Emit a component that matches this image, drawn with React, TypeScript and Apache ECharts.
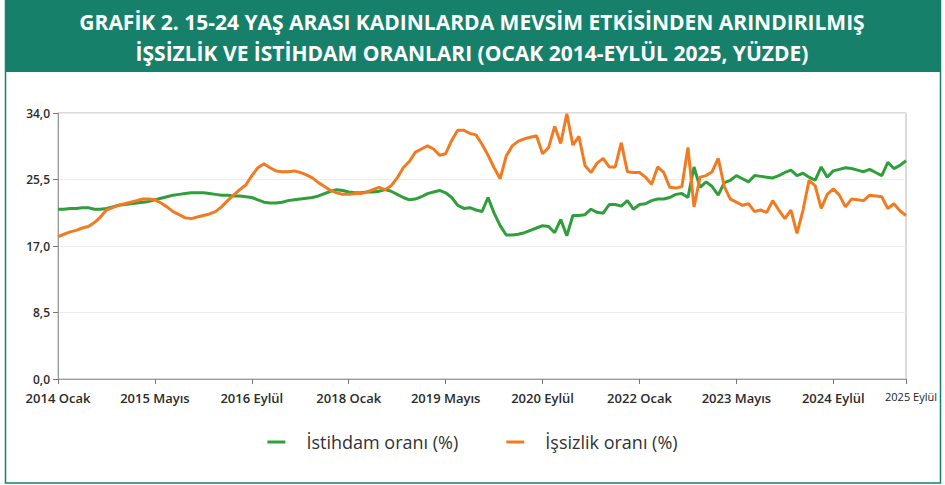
import React, { useEffect, useRef } from "react";
import * as echarts from "echarts";

const titleLines = [
  "GRAFİK 2. 15-24 YAŞ ARASI KADINLARDA MEVSİM ETKİSİNDEN ARINDIRILMIŞ",
  "İŞSİZLİK VE İSTİHDAM ORANLARI (OCAK 2014-EYLÜL 2025, YÜZDE)",
];

const years = [2014, 2015, 2016, 2017, 2018, 2019, 2020, 2021, 2022, 2023, 2024, 2025];
const monthNames = ["Ocak", "Şubat", "Mart", "Nisan", "Mayıs", "Haziran", "Temmuz", "Ağustos", "Eylül", "Ekim", "Kasım", "Aralık"];
const lastMonthIndex2025 = 8; // Eylül

const seriesNames = ["İstihdam oranı (%)", "İşsizlik oranı (%)"];

const employment = [
  21.7, 21.7, 21.8, 21.8, 21.9, 21.9, 21.7, 21.7, 21.8, 22.0, 22.2, 22.3,
  22.4, 22.5, 22.6, 22.7, 22.9, 23.1, 23.3, 23.5, 23.6, 23.7, 23.8, 23.8,
  23.8, 23.7, 23.6, 23.5, 23.5, 23.4, 23.4, 23.3, 23.2, 22.9, 22.6, 22.5,
  22.5, 22.6, 22.8, 22.9, 23.0, 23.1, 23.2, 23.4, 23.7, 24.0, 24.2, 24.1,
  23.9, 23.8, 23.8, 23.9, 23.9, 24.0, 24.2, 24.0, 23.6, 23.2, 22.9, 23.0,
  23.3, 23.7, 23.9, 24.1, 23.8, 23.2, 22.2, 21.8, 21.9, 21.6, 21.4, 23.2,
  21.2, 19.6, 18.4, 18.4, 18.5, 18.7, 19.0, 19.3, 19.6, 19.5, 18.7, 20.4,
  18.3, 20.9, 20.9, 21.0, 21.7, 21.3, 21.2, 22.3, 22.3, 22.1, 22.8, 21.7,
  22.3, 22.4, 22.8, 23.0, 23.0, 23.2, 23.6, 23.7, 23.2, 27.1, 24.5, 25.2,
  24.6, 23.5, 25.1, 25.4, 26.0, 25.6, 25.2, 26.0, 25.9, 25.8, 25.7, 26.0,
  26.4, 26.7, 26.0, 26.3, 25.8, 25.4, 27.1, 25.8, 26.6, 26.8, 27.0, 26.9,
  26.7, 26.5, 26.8, 26.4, 26.0, 27.7, 26.9, 27.3, 27.9,
];

const unemployment = [
  18.2, 18.5, 18.8, 19.0, 19.3, 19.5, 20.0, 20.7, 21.6, 21.9, 22.2, 22.4,
  22.6, 22.8, 23.0, 23.0, 22.9, 22.5, 22.0, 21.4, 21.0, 20.6, 20.5, 20.7,
  20.9, 21.1, 21.4, 22.0, 22.8, 23.5, 24.2, 24.8, 26.0, 27.0, 27.5, 27.0,
  26.6, 26.5, 26.5, 26.6, 26.4, 26.1, 25.7, 25.1, 24.6, 24.1, 23.8, 23.6,
  23.6, 23.7, 23.7, 23.9, 24.2, 24.5, 24.2, 24.7, 25.7, 27.0, 27.8, 29.0,
  29.4, 29.8, 29.4, 28.6, 28.8, 30.5, 31.8, 31.8, 31.4, 31.2, 30.0, 28.6,
  27.0, 25.6, 28.5, 29.8, 30.4, 30.7, 30.9, 31.1, 28.8, 29.6, 32.3, 30.1,
  33.9, 29.9, 31.0, 27.3, 26.4, 27.6, 28.2, 27.1, 27.1, 30.2, 26.5, 26.4,
  26.4, 25.8, 24.9, 27.1, 26.4, 24.5, 24.4, 24.6, 29.6, 22.0, 25.8, 26.0,
  26.5, 28.2, 24.6, 23.0, 22.6, 22.2, 22.4, 21.4, 21.6, 21.3, 22.8, 21.6,
  20.5, 21.6, 18.6, 21.6, 25.4, 24.7, 21.8, 23.6, 24.3, 23.5, 22.0, 23.0,
  22.9, 22.8, 23.5, 23.4, 23.3, 21.8, 22.4, 21.5, 20.9,
];

const yTicks = { min: 0, max: 34, interval: 8.5 };
const labelEvery = 16;

const categories: string[] = [];
years.forEach((y) => {
  monthNames.forEach((m, mi) => {
    if (y === 2025 && mi > lastMonthIndex2025) return;
    categories.push(`${y} ${m}`);
  });
});
const lastIdx = categories.length - 1;

const GREEN_BAND = "#17806b";
const GREEN_LINE = "#2f9f3b";
const ORANGE_LINE = "#f27b21";
const FONT = "'Open Sans', 'Noto Sans', sans-serif";

export default function App() {
  const ref = useRef<HTMLDivElement>(null);
  useEffect(() => {
    if (!ref.current) return;
    const chart = echarts.init(ref.current, undefined, { renderer: "svg" });
    const showLabel = (i: number) => i % labelEvery === 0 || i === lastIdx;
    chart.setOption({
      animation: false,
      backgroundColor: "#ffffff",
      graphic: [
        { type: "rect", shape: { x: 5.5, y: 0, width: 935, height: 483 }, style: { fill: "none", stroke: GREEN_BAND, lineWidth: 1.5 }, silent: true },
        { type: "rect", shape: { x: 5, y: 0, width: 936, height: 72 }, style: { fill: GREEN_BAND }, silent: true },
        {
          type: "text",
          x: 472,
          y: 22,
          silent: true,
          style: { text: titleLines[0], fill: "#ffffff", fontSize: 21, fontWeight: "bold", fontFamily: FONT, align: "center", verticalAlign: "middle" },
        },
        {
          type: "text",
          x: 472,
          y: 53,
          silent: true,
          style: { text: titleLines[1], fill: "#ffffff", fontSize: 21, fontWeight: "bold", fontFamily: FONT, align: "center", verticalAlign: "middle" },
        },
      ],
      legend: {
        data: seriesNames,
        left: "center",
        top: 428,
        icon: "rect",
        itemWidth: 18,
        itemHeight: 3,
        itemGap: 48,
        textStyle: {
          fontSize: 18,
          color: "#333333",
          fontFamily: FONT,
          padding: [0, 0, 0, 16],
        },
      },
      grid: {
        left: 58,
        right: 39,
        top: 113,
        bottom: 106,
        show: true,
        borderColor: "#b5b5b5",
        borderWidth: 1,
        outerBoundsMode: "none",
        containLabel: false,
      },
      xAxis: {
        type: "category",
        data: categories,
        boundaryGap: false,
        axisLine: { lineStyle: { color: "#9a9a9a" } },
        axisTick: { show: true, interval: (i: number) => showLabel(i), length: 5, lineStyle: { color: "#777" } },
        axisLabel: {
          interval: (i: number) => showLabel(i),
          color: "#2b2b2b",
          fontSize: 13,
          fontWeight: 600,
          margin: 12,
          fontFamily: FONT,
          formatter: (v: string, i: number) => (i === lastIdx ? `{last|${v}}` : v),
          rich: {
            last: {
              fontSize: 11,
              fontWeight: "normal",
              color: "#222",
              fontFamily: FONT,
              padding: [0, 0, 0, 10],
            },
          },
        },
        splitLine: { show: false },
      },
      yAxis: {
        type: "value",
        min: yTicks.min,
        max: yTicks.max,
        interval: yTicks.interval,
        axisLine: { show: true, lineStyle: { color: "#9a9a9a" } },
        axisTick: { show: true, length: 5, lineStyle: { color: "#777" } },
        axisLabel: {
          color: "#2b2b2b",
          fontSize: 12,
          fontWeight: 600,
          margin: 8,
          fontFamily: FONT,
          formatter: (v: number) => v.toFixed(1).replace(".", ","),
        },
        splitLine: { show: true, lineStyle: { color: "#ececec", width: 1 } },
      },
      series: [
        {
          name: seriesNames[0],
          type: "line",
          data: employment,
          showSymbol: false,
          lineStyle: { color: GREEN_LINE, width: 3 },
          itemStyle: { color: GREEN_LINE },
        },
        {
          name: seriesNames[1],
          type: "line",
          data: unemployment,
          showSymbol: false,
          lineStyle: { color: ORANGE_LINE, width: 3 },
          itemStyle: { color: ORANGE_LINE },
        },
      ],
    });
    return () => chart.dispose();
  }, []);
  return (
    <div
      ref={ref}
      style={{ position: "fixed", left: 0, top: 0, width: 945, height: 485 }}
    />
  );
}
